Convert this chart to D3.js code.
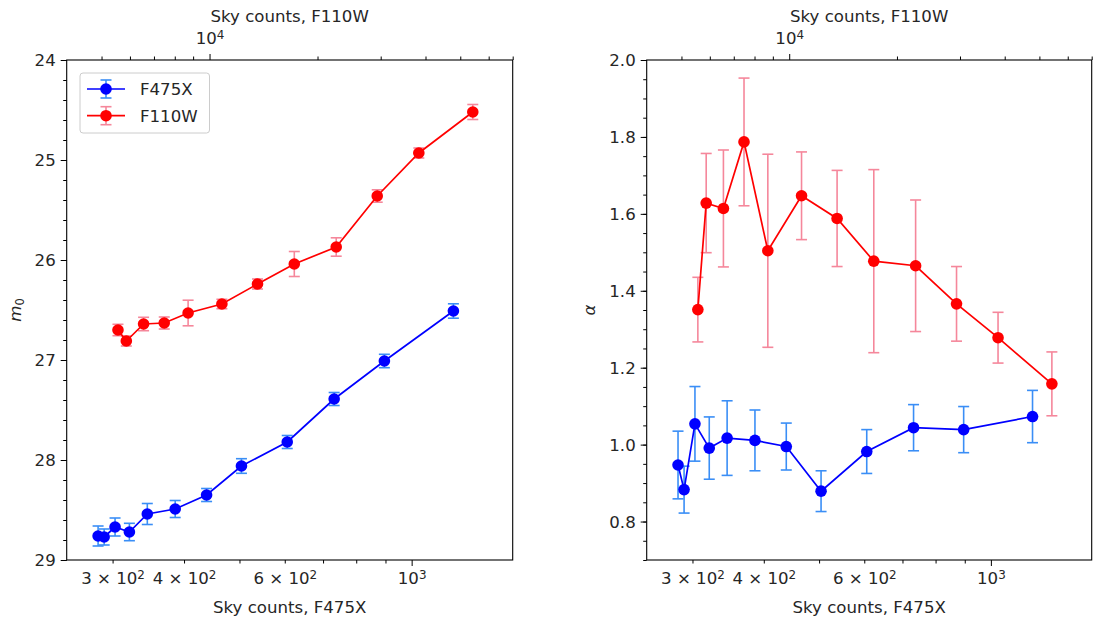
<!DOCTYPE html>
<html>
<head>
<meta charset="utf-8">
<script src="https://cdn.jsdelivr.net/npm/d3@7"></script>
<style>
  html, body { margin: 0; padding: 0; background: #fff; }
  svg { display: block; font-family: "DejaVu Sans", sans-serif; }
</style>
</head>
<body>
<svg id="chart" width="1096" height="622"></svg>
<script>
// ---------- data ----------
const skyF475X = [283, 290, 303, 321, 345, 386, 438, 504, 606, 732, 896, 1183];
const skyF110W = [5556, 5862, 6549, 7477, 8715, 10825, 13607, 17230, 22550, 29340, 38320, 54180];

const m0F475X    = [28.76, 28.77, 28.67, 28.72, 28.54, 28.49, 28.35, 28.06, 27.82, 27.39, 27.01, 26.51];
const m0F475XErr = [0.10, 0.08, 0.09, 0.087, 0.105, 0.085, 0.065, 0.073, 0.065, 0.065, 0.067, 0.072];
const m0F110W    = [26.70, 26.81, 26.64, 26.63, 26.53, 26.44, 26.24, 26.04, 25.87, 25.36, 24.93, 24.52];
const m0F110WErr = [0.057, 0.05, 0.067, 0.06, 0.128, 0.047, 0.05, 0.125, 0.092, 0.062, 0.05, 0.075];

const alphaF475X    = [0.947, 0.883, 1.054, 0.991, 1.017, 1.011, 0.995, 0.879, 0.982, 1.044, 1.039, 1.073];
const alphaF475XErr = [0.088, 0.061, 0.097, 0.081, 0.097, 0.079, 0.061, 0.053, 0.057, 0.06, 0.06, 0.068];
const alphaF110W    = [1.351, 1.628, 1.614, 1.787, 1.504, 1.647, 1.588, 1.477, 1.465, 1.366, 1.278, 1.158];
const alphaF110WErr = [0.084, 0.129, 0.152, 0.166, 0.251, 0.114, 0.125, 0.238, 0.171, 0.097, 0.066, 0.083];

const seriesNames = ["F475X", "F110W"];

// tick values and labels
const bottomMajorTicks = [1000];
const bottomMinorTicks = [300, 400, 500, 600, 700, 800, 900];
const bottomTickLabels = [
  {value: 300, mant: "3 × 10", exp: "2"},
  {value: 400, mant: "4 × 10", exp: "2"},
  {value: 600, mant: "6 × 10", exp: "2"},
  {value: 1000, mant: "10", exp: "3"}
];
const topMajorTicks = [10000];
const topMinorTicks = [5000, 6000, 7000, 8000, 9000, 20000, 30000, 40000, 50000, 60000, 70000];
const topTickLabels = [{value: 10000, mant: "10", exp: "4"}];

const m0MajorTicks = [24, 25, 26, 27, 28, 29];
const m0MinorTicks = d3.range(24, 29.0001, 0.2);
const alphaMajorTicks = [0.8, 1.0, 1.2, 1.4, 1.6, 1.8, 2.0];
const alphaMinorTicks = d3.range(0.7, 2.0001, 0.05);

const bottomTitle = "Sky counts, F475X";
const topTitle = "Sky counts, F110W";

// ---------- style ----------
const blue = "#0000ff", blueErr = "#3a8ef6";
const red = "#ff0000", redErr = "#f5879b";
const FS = 16.6;

const svg = d3.select("#chart");

const panels = [
  {x0: 66.7, x1: 512.7, yDomain: [24, 29], yMajor: m0MajorTicks, yMinor: m0MinorTicks,
   yFmt: d => d3.format("d")(d), ylabel: "m0",
   blue: m0F475X, blueE: m0F475XErr, red: m0F110W, redE: m0F110WErr, legend: true},
  {x0: 646.7, x1: 1091.7, yDomain: [2.0, 0.7], yMajor: alphaMajorTicks, yMinor: alphaMinorTicks,
   yFmt: d => d3.format(".1f")(d), ylabel: "alpha",
   blue: alphaF475X, blueE: alphaF475XErr, red: alphaF110W, redE: alphaF110WErr, legend: false}
];
const y0 = 60, y1 = 560;

function supLabel(sel, mant, exp) {
  sel.text(null);
  sel.append("tspan").text(mant);
  sel.append("tspan").attr("dy", "-0.45em").attr("font-size", "0.72em").text(exp);
}

function styleAxis(g) {
  g.select(".domain").remove();
  g.selectAll(".tick line").attr("stroke", "#000").attr("stroke-width", 1);
  g.selectAll(".tick text").attr("fill", "#262626").attr("font-size", FS).attr("font-family", "DejaVu Sans");
}

panels.forEach(p => {
  const xB = d3.scaleLog().domain([249.4, 1502]).range([p.x0, p.x1]);
  const xT = d3.scaleLog().domain([3998, 70000]).range([p.x0, p.x1]);
  const y = d3.scaleLinear().domain(p.yDomain).range([y0, y1]);

  const g = svg.append("g");

  // bottom axis: minor and major
  const labMapB = new Map(bottomTickLabels.map(d => [d.value, d]));
  const gbMin = g.append("g").attr("transform", `translate(0,${y1})`)
    .call(d3.axisBottom(xB).tickValues(bottomMinorTicks).tickSize(3.5).tickPadding(6).tickFormat(() => ""));
  const gbMaj = g.append("g").attr("transform", `translate(0,${y1})`)
    .call(d3.axisBottom(xB).tickValues(bottomMajorTicks).tickSize(6).tickPadding(4).tickFormat(() => ""));
  [gbMin, gbMaj].forEach(ax => {
    styleAxis(ax);
    ax.selectAll(".tick text").each(function(d) {
      const L = labMapB.get(d);
      if (L) supLabel(d3.select(this), L.mant, L.exp);
    }).attr("dy", null).attr("y", 24);
  });

  // top axis
  const labMapT = new Map(topTickLabels.map(d => [d.value, d]));
  const gtMin = g.append("g").attr("transform", `translate(0,${y0})`)
    .call(d3.axisTop(xT).tickValues(topMinorTicks).tickSize(3.5).tickFormat(() => ""));
  const gtMaj = g.append("g").attr("transform", `translate(0,${y0})`)
    .call(d3.axisTop(xT).tickValues(topMajorTicks).tickSize(6).tickFormat(() => ""));
  [gtMin, gtMaj].forEach(ax => {
    styleAxis(ax);
    ax.selectAll(".tick text").each(function(d) {
      const L = labMapT.get(d);
      if (L) supLabel(d3.select(this), L.mant, L.exp);
    }).attr("dy", null).attr("y", -16);
  });

  // left axis
  const glMin = g.append("g").attr("transform", `translate(${p.x0},0)`)
    .call(d3.axisLeft(y).tickValues(p.yMinor).tickSize(3.5).tickFormat(() => ""));
  const glMaj = g.append("g").attr("transform", `translate(${p.x0},0)`)
    .call(d3.axisLeft(y).tickValues(p.yMajor).tickSize(6).tickPadding(5).tickFormat(p.yFmt));
  styleAxis(glMin); styleAxis(glMaj);
  glMaj.selectAll(".tick text").attr("dy", "0.36em");

  // frame
  g.append("rect").attr("x", p.x0).attr("y", y0).attr("width", p.x1 - p.x0).attr("height", y1 - y0)
    .attr("fill", "none").attr("stroke", "#000").attr("stroke-width", 1.1);

  // axis titles
  g.append("text").attr("x", (p.x0 + p.x1) / 2).attr("y", 613).attr("text-anchor", "middle")
    .attr("font-size", FS).attr("fill", "#262626").text(bottomTitle);
  g.append("text").attr("x", (p.x0 + p.x1) / 2).attr("y", 22).attr("text-anchor", "middle")
    .attr("font-size", FS).attr("fill", "#262626").text(topTitle);

  const yl = g.append("text")
    .attr("transform", `translate(${p.x0 - (p.ylabel === "m0" ? 46 : 52)},${(y0 + y1) / 2}) rotate(-90)`)
    .attr("text-anchor", "middle").attr("font-size", FS).attr("fill", "#262626");
  if (p.ylabel === "m0") {
    yl.append("tspan").attr("font-style", "italic").text("m");
    yl.append("tspan").attr("font-size", "0.7em").attr("dy", "0.3em").text("0");
  } else {
    yl.append("tspan").attr("font-style", "italic").text("α");
  }

  // series
  function drawSeries(xs, xScale, vals, errs, color, ecolor) {
    const pts = xs.map((x, i) => ({x: xScale(x), y: y(vals[i]), lo: y(vals[i] - errs[i]), hi: y(vals[i] + errs[i])}));
    const eg = g.append("g").attr("stroke", ecolor).attr("stroke-width", 1.6);
    pts.forEach(d => {
      eg.append("line").attr("x1", d.x).attr("x2", d.x).attr("y1", d.lo).attr("y2", d.hi);
      eg.append("line").attr("x1", d.x - 5.5).attr("x2", d.x + 5.5).attr("y1", d.lo).attr("y2", d.lo);
      eg.append("line").attr("x1", d.x - 5.5).attr("x2", d.x + 5.5).attr("y1", d.hi).attr("y2", d.hi);
    });
    g.append("path").attr("d", d3.line().x(d => d.x).y(d => d.y)(pts))
      .attr("fill", "none").attr("stroke", color).attr("stroke-width", 1.7);
    g.append("g").selectAll("circle").data(pts).join("circle")
      .attr("cx", d => d.x).attr("cy", d => d.y).attr("r", 5.8).attr("fill", color);
  }
  drawSeries(skyF475X, xB, p.blue, p.blueE, blue, blueErr);
  drawSeries(skyF110W, xT, p.red, p.redE, red, redErr);

  // legend
  if (p.legend) {
    const lg = g.append("g");
    lg.append("rect").attr("x", 80).attr("y", 73).attr("width", 129.5).attr("height", 60).attr("rx", 3)
      .attr("fill", "#fff").attr("fill-opacity", 0.8).attr("stroke", "#cccccc").attr("stroke-width", 1);
    const items = [
      {name: seriesNames[0], c: blue, ec: blueErr, yy: 89},
      {name: seriesNames[1], c: red, ec: redErr, yy: 115.7}
    ];
    items.forEach(it => {
      lg.append("line").attr("x1", 106).attr("x2", 106).attr("y1", it.yy - 9).attr("y2", it.yy + 9)
        .attr("stroke", it.ec).attr("stroke-width", 1.6);
      [-9, 9].forEach(o => lg.append("line").attr("x1", 100.5).attr("x2", 111.5)
        .attr("y1", it.yy + o).attr("y2", it.yy + o).attr("stroke", it.ec).attr("stroke-width", 1.6));
      lg.append("line").attr("x1", 87).attr("x2", 125).attr("y1", it.yy).attr("y2", it.yy)
        .attr("stroke", it.c).attr("stroke-width", 1.7);
      lg.append("circle").attr("cx", 106).attr("cy", it.yy).attr("r", 5.8).attr("fill", it.c);
      lg.append("text").attr("x", 140).attr("y", it.yy).attr("dy", "0.36em")
        .attr("font-size", FS).attr("fill", "#262626").text(it.name);
    });
  }
});
</script>
</body>
</html>
